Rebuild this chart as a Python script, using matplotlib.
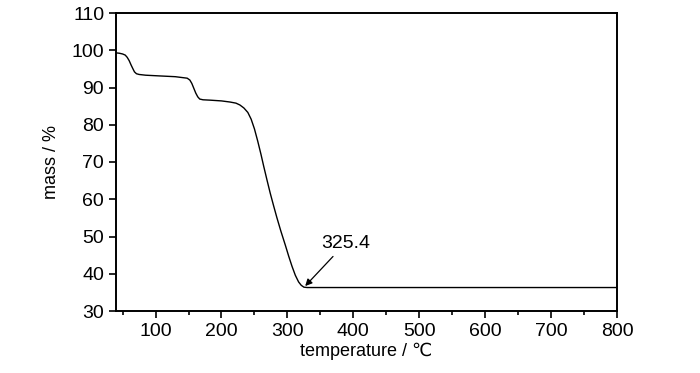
import matplotlib
matplotlib.use("Agg")
import matplotlib.pyplot as plt
from matplotlib.ticker import MultipleLocator

# TGA curve
temperature = [40, 45, 50, 54, 57, 60, 63, 66, 68, 71, 75, 85, 107, 130, 148, 152,
               155, 158, 161, 164, 167, 172, 183, 200, 213, 222, 228, 234, 240, 245,
               250, 255, 260, 264, 269, 274, 279, 284, 290, 297, 302, 307, 312, 317,
               321, 325, 330, 400, 500, 600, 700, 800]
mass = [99.3, 99.2, 99.0, 98.7, 98.1, 97.2, 96.0, 94.9, 94.2, 93.7, 93.5, 93.3, 93.1,
        92.9, 92.5, 92.0, 91.1, 89.8, 88.5, 87.5, 86.9, 86.7, 86.6, 86.4, 86.1, 85.8,
        85.3, 84.5, 83.3, 81.5, 78.9, 75.6, 72.0, 68.9, 65.2, 61.6, 58.3, 55.1, 51.5,
        47.6, 44.7, 42.0, 39.6, 37.8, 36.9, 36.4, 36.3, 36.3, 36.3, 36.3, 36.3, 36.3]

peak_label = "325.4"
peak_point = (327, 36.7)
label_point = (351, 47.0)

plt.rcParams['font.family'] = ['Liberation Sans', 'DejaVu Sans']

fig = plt.figure(figsize=(7.0, 3.73), dpi=100)
ax = fig.add_axes([116 / 700, 1 - 311 / 373, 501 / 700, 298 / 373])

ax.plot(temperature, mass, color='black', lw=1.0)
ax.annotate(peak_label, xy=peak_point, xytext=label_point, fontsize=14,
            arrowprops=dict(arrowstyle='-|>', color='black', lw=0.9,
                            mutation_scale=10, shrinkA=2, shrinkB=0))

ax.set_xlim(40, 800)
ax.set_ylim(30, 110)
ax.xaxis.set_major_locator(MultipleLocator(100))
ax.xaxis.set_minor_locator(MultipleLocator(50))
ax.yaxis.set_major_locator(MultipleLocator(10))
ax.tick_params(which='both', direction='out', width=1.2, labelsize=14)
ax.tick_params(which='major', length=5)
ax.tick_params(which='minor', length=3)
for s in ax.spines.values():
    s.set_linewidth(1.4)

ax.set_xlabel("temperature / \u2103", fontsize=13, labelpad=2)
ax.set_ylabel("mass / %", fontsize=13, labelpad=8)

fig.savefig("out.png", dpi=100)
